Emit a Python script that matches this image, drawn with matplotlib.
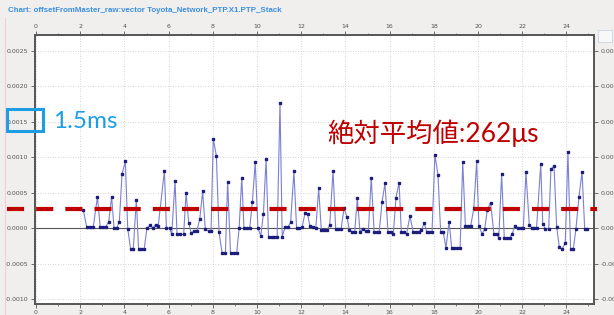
import matplotlib
matplotlib.use("Agg")
import matplotlib.pyplot as plt
from matplotlib.patches import Rectangle
from matplotlib.lines import Line2D

# ---------------- data ----------------
times = [2.14, 2.29, 2.44, 2.59, 2.78, 2.90, 3.04, 3.16, 3.29, 3.42, 3.53, 3.65, 3.77, 3.89,
         4.04, 4.15, 4.28, 4.40, 4.54, 4.64, 4.77, 4.89, 5.02, 5.16, 5.28, 5.41, 5.53, 5.81,
         5.90, 6.05, 6.14, 6.29, 6.38, 6.53, 6.68, 6.79, 6.91, 7.02, 7.16, 7.28, 7.41, 7.54,
         7.66, 7.81, 7.92, 8.02, 8.16, 8.28, 8.42, 8.57, 8.67, 8.80, 8.95, 9.08, 9.19, 9.31,
         9.41, 9.54, 9.67, 9.79, 9.92, 10.04, 10.17, 10.29, 10.41, 10.52, 10.66, 10.79, 10.91,
         11.04, 11.14, 11.27, 11.39, 11.52, 11.67, 11.79, 11.91, 12.04, 12.17, 12.29, 12.39,
         12.54, 12.66, 12.79, 12.91, 13.04, 13.17, 13.29, 13.44, 13.56, 13.68, 13.80, 13.94,
         14.07, 14.18, 14.30, 14.42, 14.54, 14.66, 14.79, 14.91, 15.04, 15.17, 15.30, 15.42,
         15.53, 15.66, 15.79, 15.93, 16.05, 16.17, 16.29, 16.43, 16.53, 16.65, 16.77, 16.92,
         17.07, 17.19, 17.31, 17.44, 17.56, 17.68, 17.80, 17.92, 18.05, 18.19, 18.31, 18.43,
         18.55, 18.69, 18.81, 18.93, 19.06, 19.19, 19.31, 19.43, 19.55, 19.67, 19.81, 19.94,
         20.04, 20.18, 20.30, 20.42, 20.57, 20.72, 20.84, 20.94, 21.07, 21.19, 21.31, 21.43,
         21.55, 21.67, 21.81, 21.93, 22.05, 22.17, 22.32, 22.44, 22.53, 22.65, 22.84, 22.93,
         23.05, 23.20, 23.30, 23.44, 23.56, 23.68, 23.80, 23.95, 24.07, 24.19, 24.31, 24.43,
         24.57, 24.71, 24.83, 24.95]

offsets = [0.00025, 0.00002, 0.00002, 0.00002, 0.00044, 0.00002, 0.00002, 0.00002, 0.00009,
           0.00044, 0.00000, 0.00000, 0.00009, 0.00076, 0.00094, -0.00001, -0.00030, -0.00030,
           0.00040, -0.00030, -0.00030, -0.00030, 0.00000, 0.00004, 0.00000, 0.00005, 0.00003,
           0.00081, 0.00000, 0.00000, -0.00009, 0.00066, -0.00009, -0.00009, -0.00009, 0.00050,
           0.00007, -0.00007, -0.00004, -0.00004, 0.00013, 0.00052, -0.00002, -0.00004, -0.00004,
           0.00126, 0.00102, -0.00006, -0.00035, -0.00035, 0.00065, -0.00035, -0.00035, -0.00035,
           0.00000, 0.00071, 0.00000, 0.00000, 0.00000, 0.00037, 0.00093, 0.00000, -0.00011,
           0.00020, 0.00097, -0.00012, -0.00012, -0.00012, -0.00012, 0.00176, -0.00012, 0.00001,
           0.00001, 0.00008, 0.00080, 0.00000, 0.00000, 0.00001, 0.00021, 0.00020, 0.00003,
           0.00001, 0.00000, 0.00056, -0.00003, -0.00003, -0.00003, 0.00004, 0.00081, -0.00002,
           -0.00002, -0.00002, 0.00028, 0.00016, -0.00003, -0.00005, -0.00005, 0.00042, -0.00005,
           -0.00001, -0.00004, -0.00004, 0.00071, -0.00006, -0.00006, -0.00005, 0.00037, 0.00063,
           -0.00006, -0.00006, -0.00008, 0.00043, 0.00064, -0.00006, -0.00006, -0.00008, 0.00017,
           -0.00006, -0.00006, -0.00005, -0.00003, 0.00007, -0.00005, -0.00005, -0.00005, 0.00103,
           0.00075, -0.00006, -0.00006, -0.00028, 0.00009, -0.00028, -0.00028, -0.00028, -0.00028,
           0.00093, 0.00003, 0.00003, 0.00003, 0.00028, 0.00094, 0.00003, -0.00008, -0.00002,
           0.00025, 0.00036, -0.00008, -0.00008, -0.00014, 0.00076, -0.00014, -0.00014, -0.00014,
           -0.00008, 0.00003, 0.00000, 0.00000, 0.00000, 0.00079, 0.00005, 0.00000, 0.00000,
           0.00000, 0.00090, 0.00006, -0.00001, -0.00001, 0.00083, 0.00087, 0.00002, -0.00027,
           -0.00030, -0.00021, 0.00107, -0.00030, -0.00030, -0.00002, 0.00044, 0.00079, -0.00002,
           -0.00002]

mean_abs = 0.000262
x_ticks = [0, 2, 4, 6, 8, 10, 12, 14, 16, 18, 20, 22, 24]
x_labels = ["0", "2", "4", "6", "8", "10", "12", "14", "16", "18", "20", "22", "24"]
y_ticks = [-0.0010, -0.0005, 0.0, 0.0005, 0.0010, 0.0015, 0.0020, 0.0025]
y_labels = ["-0.0010", "-0.0005", "0.0000", "0.0005", "0.0010", "0.0015", "0.0020", "0.0025"]
title = "Chart: offsetFromMaster_raw:vector Toyota_Network_PTP.X1.PTP_Stack"
note_left = "1.5ms"
note_right = "絶対平均値:262μs"

# ---------------- figure ----------------
W, H = 614, 315
fig = plt.figure(figsize=(W / 100, H / 100), dpi=100, facecolor="#f0efee")

def fx(px):
    return px / W

def fy(py):
    return 1 - py / H

ax_l, ax_r, ax_t, ax_b = 34.5, 594, 35, 304
ax = fig.add_axes([fx(ax_l), fy(ax_b), fx(ax_r - ax_l), (ax_b - ax_t) / H])
ax.set_facecolor("white")

ax.set_xlim(-0.07, 25.25)
ax.set_ylim(-0.00107, 0.00272)

ax.set_xticks(x_ticks)
ax.set_xticklabels(x_labels)
ax.set_xticks(range(0, 26), minor=True)
ax.set_yticks(y_ticks)
ax.set_yticklabels(y_labels)

ax.tick_params(axis="both", which="major", labelsize=4.5, colors="#555555",
               length=3, width=0.6, direction="out", pad=1.5,
               top=True, right=True, labeltop=True, labelright=True)
ax.tick_params(axis="both", which="minor", length=1.5, width=0.5, colors="#555555",
               top=True, right=True)

for s in ax.spines.values():
    s.set_color("#555555")
    s.set_linewidth(1.4)

ax.grid(True, which="major", color="#c8c8c8", linestyle=(0, (1, 2)), linewidth=0.6)
ax.set_axisbelow(True)

ax.axhline(0, color="#555555", linewidth=0.8, zorder=2)

ax.plot(times, offsets, color="#7c80d2", linewidth=0.8, zorder=3)
ax.plot(times, offsets, linestyle="none", marker="s", markersize=1.9,
        markerfacecolor="#1c1c7c", markeredgecolor="#1c1c7c", zorder=4)

# mean |offset| dashed line (extends beyond the plot area)
xmin = (7 - ax_l) / (ax_r - ax_l)
xmax = (597 - ax_l) / (ax_r - ax_l)
ax.axhline(mean_abs, xmin=xmin, xmax=xmax, color="#c00000", linewidth=3.0,
           linestyle=(0, (4.1, 2.9)), solid_capstyle="butt", dash_capstyle="butt",
           clip_on=False, zorder=5)

# title
fig.text(fx(8), fy(11), title, color="#3b8fe0", fontsize=5.7, fontweight="bold",
         ha="left", va="center", family=["Liberation Sans", "DejaVu Sans"])

# left faint border line
fig.add_artist(Line2D([fx(5), fx(5)], [fy(18), 0], color="#f0d0d4", linewidth=0.8))

# small icon top-right
fig.add_artist(Rectangle((fx(598), fy(42)), fx(14), 12 / H, facecolor="#f8f8f8",
                         edgecolor="#c8d4e0", linewidth=0.6))

# blue box around the 0.0015 tick label
fig.add_artist(Rectangle((fx(6.5), fy(131)), fx(36), 22 / H, facecolor="none",
                         edgecolor="#1d9ee4", linewidth=2.2))

fig.text(fx(53), fy(122), note_left, color="#1d9ee4", fontsize=17.5,
         ha="left", va="center", family=["Lato", "DejaVu Sans"])

fig.text(fx(327), fy(133), note_right, color="#c00000", fontsize=19,
         ha="left", va="center", family=["Lato", "Noto Sans CJK JP", "DejaVu Sans"])

fig.savefig("out.png", dpi=100, facecolor=fig.get_facecolor())
